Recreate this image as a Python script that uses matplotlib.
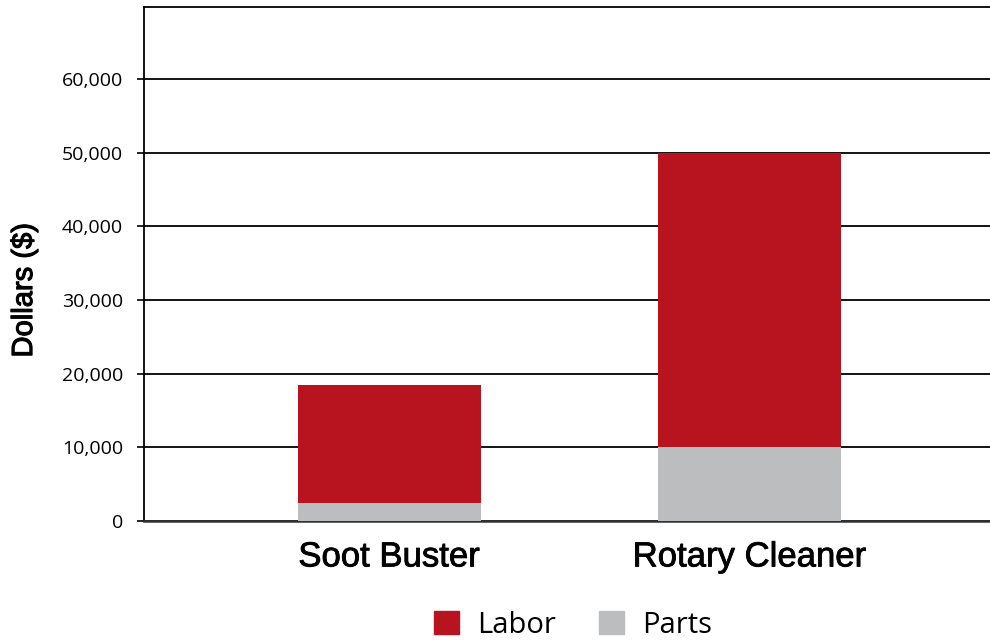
import matplotlib
matplotlib.use("Agg")
import matplotlib.pyplot as plt
from matplotlib.patches import Patch
from matplotlib.ticker import FuncFormatter
import matplotlib.patheffects as pe

categories = ["Soot Buster", "Rotary Cleaner"]
parts = [2400, 10000]
labor = [16100, 40000]
yticks = [0, 10000, 20000, 30000, 40000, 50000, 60000]

red = "#B8141F"
gray = "#BCBDBF"

fig = plt.figure(figsize=(9.9, 6.4), dpi=100)
ax = fig.add_axes([0.1455, 0.186, 0.8545, 0.803])

x = list(range(len(categories)))
w = 0.508
ax.bar(x, parts, width=w, color=gray, label="Parts", zorder=3)
ax.bar(x, labor, width=w, bottom=parts, color=red, label="Labor", zorder=3)

ax.set_xlim(-0.68, 1.667)
ax.set_ylim(0, 69800)
ax.set_yticks(yticks)
ax.yaxis.set_major_formatter(FuncFormatter(lambda v, p: f"{int(v):,}"))
ax.yaxis.grid(True, color="black", linewidth=1.3, zorder=0)
ax.set_axisbelow(True)

thick = [pe.withStroke(linewidth=0.6, foreground="black")]
ax.set_xticks(x)
ax.set_xticklabels(categories, fontsize=25, family="Liberation Sans")
for lab in ax.get_xticklabels():
    lab.set_path_effects(thick)
ax.tick_params(axis="x", length=0, pad=14)
ax.tick_params(axis="y", length=5, width=1.2, pad=10, labelsize=14)
for lab in ax.get_yticklabels():
    lab.set_family("Open Sans")

ax.spines["right"].set_visible(False)
ax.spines["top"].set_linewidth(1.3)
ax.spines["left"].set_linewidth(1.3)
ax.spines["bottom"].set_linewidth(1.8)
ax.spines["bottom"].set_color("#333333")

yl = ax.set_ylabel("Dollars ($)", fontsize=21, family="Liberation Sans")
yl.set_path_effects([pe.withStroke(linewidth=0.8, foreground="black")])
ax.yaxis.set_label_coords(-0.1253, 0.449)

handles = [Patch(color=red, label="Labor"), Patch(color=gray, label="Parts")]
fig.legend(handles=handles, loc="center", bbox_to_anchor=(0.579, 0.0234), ncol=2,
           frameon=False, prop={"family": "Open Sans", "size": 21},
           handlelength=0.86, handleheight=0.86, handletextpad=0.62, columnspacing=1.48,
           borderpad=0, borderaxespad=0)

fig.savefig("out.png", dpi=100)
